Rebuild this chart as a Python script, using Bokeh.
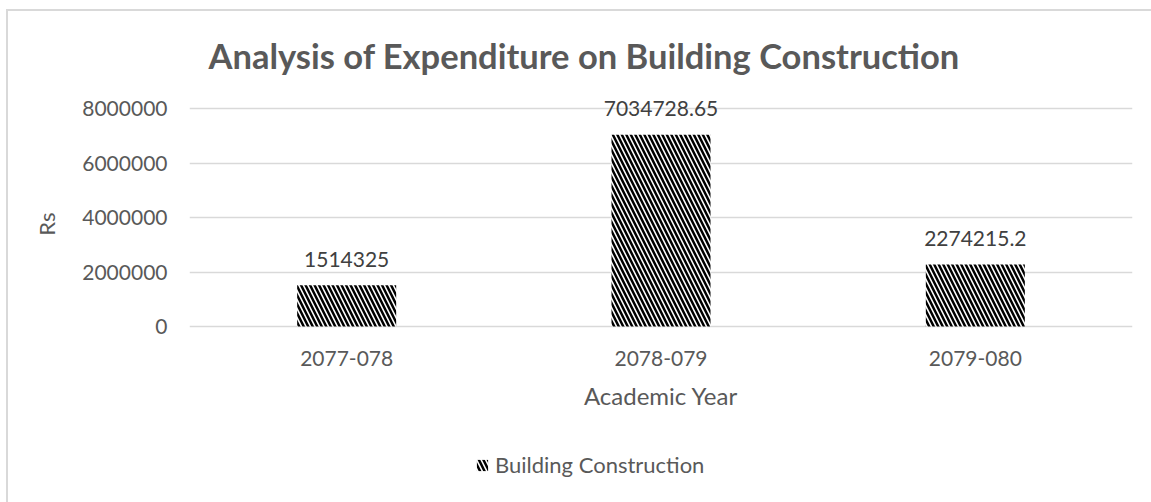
from bokeh.plotting import figure
from bokeh.models import (ColumnDataSource, Range1d, NumeralTickFormatter, Legend, LegendItem, Title)
from bokeh.core.properties import value
from bokeh.embed import file_html
from bokeh.resources import INLINE

years = ["2077-078", "2078-079", "2079-080"]
expenditure = [1514325, 7034728.65, 2274215.2]
y_ticks = [0, 2000000, 4000000, 6000000, 8000000]
series_name = "Building Construction"
title_text = "Analysis of Expenditure on Building Construction"
x_label = "Academic Year"
y_label = "Rs"

def fmt(v):
    return str(int(v)) if float(v).is_integer() else repr(float(v))

src = ColumnDataSource(dict(x=years, top=expenditure, lab=[fmt(v) for v in expenditure]))

GRAY = "#595959"
FONT = "Lato"

# layout: 218 px between the 0 and 8000000 gridlines; extra room above for labels
# and below for the x axis texts and the legend (kept inside the frame)
AXIS_PX = 218
PX_PER_UNIT = AXIS_PX / y_ticks[-1]
ABOVE_PX = 14
BELOW_PX = 169
y_start = -BELOW_PX / PX_PER_UNIT
y_end = y_ticks[-1] + ABOVE_PX / PX_PER_UNIT

p = figure(x_range=years, y_range=Range1d(y_start, y_end),
           frame_width=943, frame_height=AXIS_PX + ABOVE_PX + BELOW_PX,
           output_backend="svg", toolbar_location=None,
           min_border_left=181, min_border_right=25, min_border_top=83, min_border_bottom=10,
           styles={"border": "2px solid #D9D9D9", "margin-left": "6px", "margin-top": "9px"})
p.outline_line_color = None
p.background_fill_color = "white"
p.border_fill_color = "white"

bars = p.vbar(x="x", top="top", bottom=0, width=0.315, source=src, fill_color="white",
              line_color=None, hatch_pattern="left_diagonal_line", hatch_color="black",
              hatch_scale=9, hatch_weight=2.5)

p.text(x="x", y="top", text="lab", source=src, text_align="center", text_baseline="alphabetic",
       y_offset=-26, text_font=value(FONT), text_font_size="21px", text_color="#404040")

# title
p.title.text = title_text
p.title.align = "left"
p.title.offset = 19
p.title.text_font = FONT
p.title.text_font_size = "34.5px"
p.title.text_font_style = "bold"
p.title.text_color = GRAY
p.title.standoff = 38

# y axis title, placed beside the upper (gridded) part of the frame
p.add_layout(Title(text=y_label, align="right", offset=118, standoff=40,
                   text_font=FONT, text_font_size="22px", text_font_style="normal",
                   text_color=GRAY), "left")

# axes
p.yaxis.ticker = y_ticks
p.yaxis.formatter = NumeralTickFormatter(format="0")
for ax in (p.xaxis[0], p.yaxis[0]):
    ax.axis_line_color = None
    ax.major_tick_line_color = None
    ax.minor_tick_line_color = None
    ax.major_tick_in = 0
    ax.major_tick_out = 0
    ax.minor_tick_out = 0
    ax.major_label_text_font = FONT
    ax.major_label_text_font_size = "21px"
    ax.major_label_text_color = GRAY
    ax.axis_label_text_font = FONT
    ax.axis_label_text_font_size = "24px"
    ax.axis_label_text_font_style = "normal"
    ax.axis_label_text_color = GRAY

p.yaxis.major_label_standoff = 22
p.xaxis.axis_label = x_label
p.xaxis.fixed_location = 0
p.xaxis.major_label_standoff = 24
p.xaxis.axis_label_standoff = 12

p.xgrid.grid_line_color = None
p.ygrid.grid_line_color = "#D9D9D9"
p.ygrid.grid_line_width = 1.3

legend = Legend(items=[LegendItem(label=series_name, renderers=[bars])],
                location=(286, 17), orientation="horizontal",
                label_text_font=FONT, label_text_font_size="22px", label_text_color=GRAY,
                glyph_width=14, glyph_height=14, label_standoff=6,
                border_line_color=None, background_fill_alpha=0, padding=0, margin=0)
p.add_layout(legend, "center")

open("out.html", "w").write(file_html(p, INLINE))
